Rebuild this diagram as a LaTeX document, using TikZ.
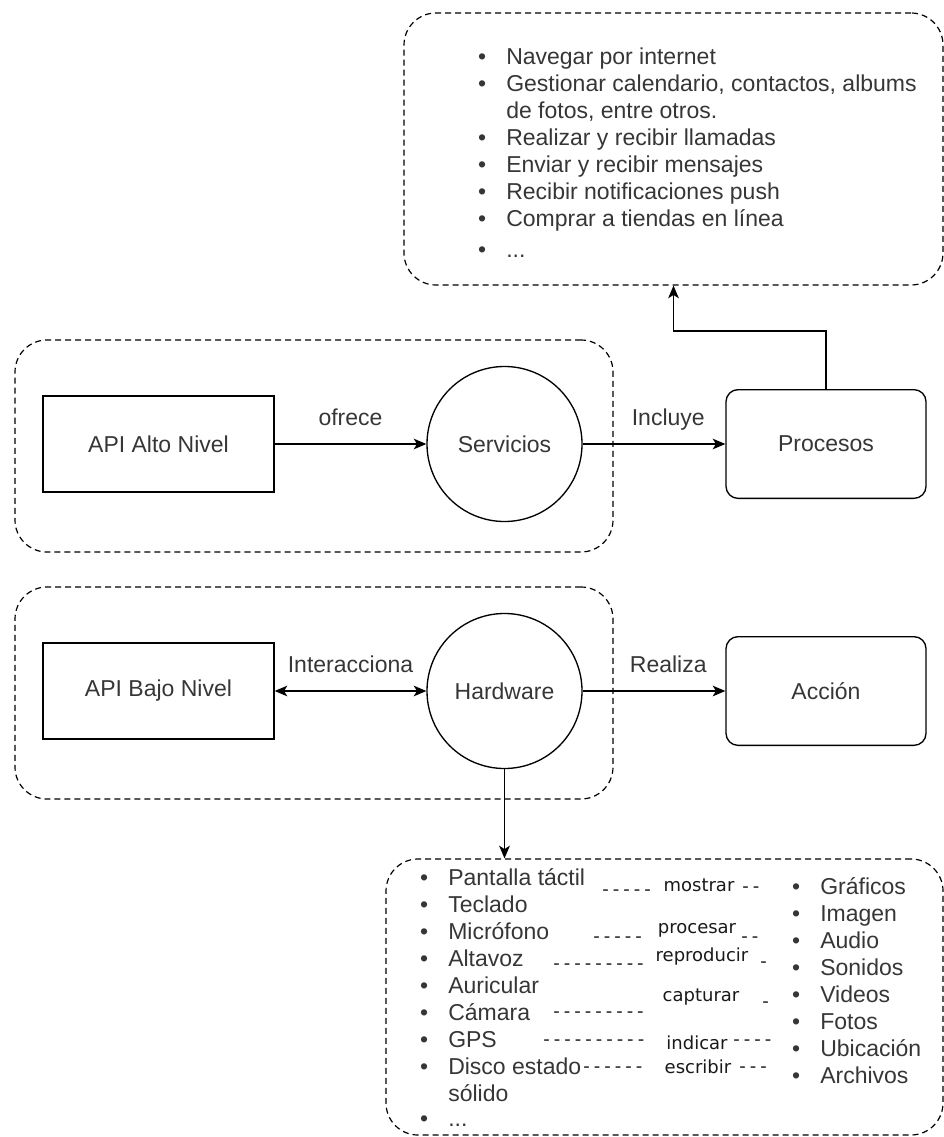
\documentclass[tikz,border=0pt]{standalone}
\usepackage{fontspec}
\setmainfont{Liberation Sans}
\newfontfamily\verbofont{DejaVu Sans}
\usepackage{tikz}
\usetikzlibrary{arrows.meta}
\definecolor{texto}{HTML}{363636}
\newcommand{\punto}{\llap{\textbullet\hspace{15pt}}}
\newcommand{\rayas}[1]{\foreach \k in {1,...,#1}{-\kern3pt}}

\tikzset{
    punta/.tip={Stealth[length=9.5pt,width=8pt,inset=2.5pt]},
    grupo/.style={draw, dash pattern=on 4.5pt off 3pt, line width=0.9pt, rounded corners=24pt, inner sep=0pt},
    caja/.style={draw, line width=1pt, minimum width=173.25pt, minimum height=72pt, text=texto},
    circulo/.style={draw, circle, line width=1pt, minimum size=116.25pt, text=texto},
    redondo/.style={draw, line width=1pt, rounded corners=9pt, minimum width=150pt, minimum height=81.5pt, text=texto},
    flecha/.style={-punta, line width=1pt},
    doble/.style={punta-punta, line width=1pt},
    etiqueta/.style={anchor=base, yshift=14pt, inner sep=0pt, text=texto},
    lista/.style={align=left, anchor=north west, inner sep=0pt, text=texto},
    verbo/.style={font=\verbofont\fontsize{13.5}{16}\selectfont, inner sep=0pt, text=black!90},
    raya/.style={verbo, anchor=west}
}

\begin{document}
\begin{tikzpicture}[x=0.75pt, y=-0.75pt, font=\fontsize{17.25}{20.25}\selectfont]
    \useasboundingbox (0,0) rectangle (944,1137);

    % grupos punteados
    \node[grupo, minimum width=404.25pt, minimum height=204pt] (tareas) at (673.5,149) {};
    \node[grupo, minimum width=448.5pt, minimum height=159pt] (alto) at (314,446) {};
    \node[grupo, minimum width=448.5pt, minimum height=159pt] (bajo) at (314,693) {};
    \node[grupo, minimum width=417.75pt, minimum height=207pt] (dispositivos) at (664.5,997) {};

    % alto nivel
    \node[caja] (altoapi) at (158.5,444) {API Alto Nivel};
    \node[circulo] (servicios) at (504.5,444) {Servicios};
    \node[redondo] (procesos) at (826,444) {Procesos};

    % bajo nivel
    \node[caja] (bajoapi) at (158.5,691) {API Bajo Nivel};
    \node[circulo] (hardware) at (504.5,691) {Hardware};
    \node[redondo] (accion) at (826,691) {Acción};

    % conexiones
    \draw[flecha] (altoapi.east) -- node[etiqueta] {ofrece} (servicios.west);
    \draw[flecha] (servicios.east) -- node[etiqueta, pos=.6] {Incluye} (procesos.west);
    \draw[flecha] (procesos.north) -- ++(0,-58) -| (tareas.south);
    \draw[doble] (bajoapi.east) -- node[etiqueta] {Interacciona} (hardware.west);
    \draw[flecha] (hardware.east) -- node[etiqueta, pos=.6] {Realiza} (accion.west);
    \draw[flecha] (hardware.south) -- (hardware.south |- dispositivos.north);

    % listas
    \node[lista] (listaTareas) at (506,48) {\punto Navegar por internet\\
        \punto Gestionar calendario, contactos, albums\\
        de fotos, entre otros.\\
        \punto Realizar y recibir llamadas\\
        \punto Enviar y recibir mensajes\\
        \punto Recibir notificaciones push\\
        \punto Comprar a tiendas en línea\\[3pt]
        \punto ...};
    \node[lista] (listaDisp) at (448,868) {\punto Pantalla táctil\\
        \punto Teclado\\
        \punto Micrófono\\
        \punto Altavoz\\
        \punto Auricular\\
        \punto Cámara\\
        \punto GPS\\
        \punto Disco estado\\
        sólido\\[-1pt]
        \punto ...};
    \node[lista] (listaMedios) at (820,877) {\punto Gráficos\\
        \punto Imagen\\
        \punto Audio\\
        \punto Sonidos\\
        \punto Videos\\
        \punto Fotos\\
        \punto Ubicación\\
        \punto Archivos};

    % verbos entre listas
    \node[verbo] (mostrar) at (699,885) {mostrar};
    \node[raya] (r1a) at (602,893) {\rayas{5}};
    \node[raya] (r1b) at (742,890) {\rayas{2}};
    \node[verbo] (procesar) at (697,930) {procesar};
    \node[raya] (r2a) at (593,940) {\rayas{5}};
    \node[raya] (r2b) at (741,940) {\rayas{2}};
    \node[verbo] (reproducir) at (702,957) {reproducir};
    \node[raya] (r3a) at (553,967) {\rayas{9}};
    \node[raya] (r3b) at (760,965) {\rayas{1}};
    \node[verbo] (capturar) at (701,997) {capturar};
    \node[raya] (r4a) at (553,1015) {\rayas{9}};
    \node[raya] (r4b) at (762,1005) {\rayas{1}};
    \node[verbo] (indicar) at (697,1043) {indicar};
    \node[raya] (r5a) at (543,1043) {\rayas{10}};
    \node[raya] (r5b) at (733,1043) {\rayas{4}};
    \node[verbo] (escribir) at (698,1067) {escribir};
    \node[raya] (r6a) at (583,1070) {\rayas{6}};
    \node[raya] (r6b) at (739,1070) {\rayas{3}};
\end{tikzpicture}
\end{document}
